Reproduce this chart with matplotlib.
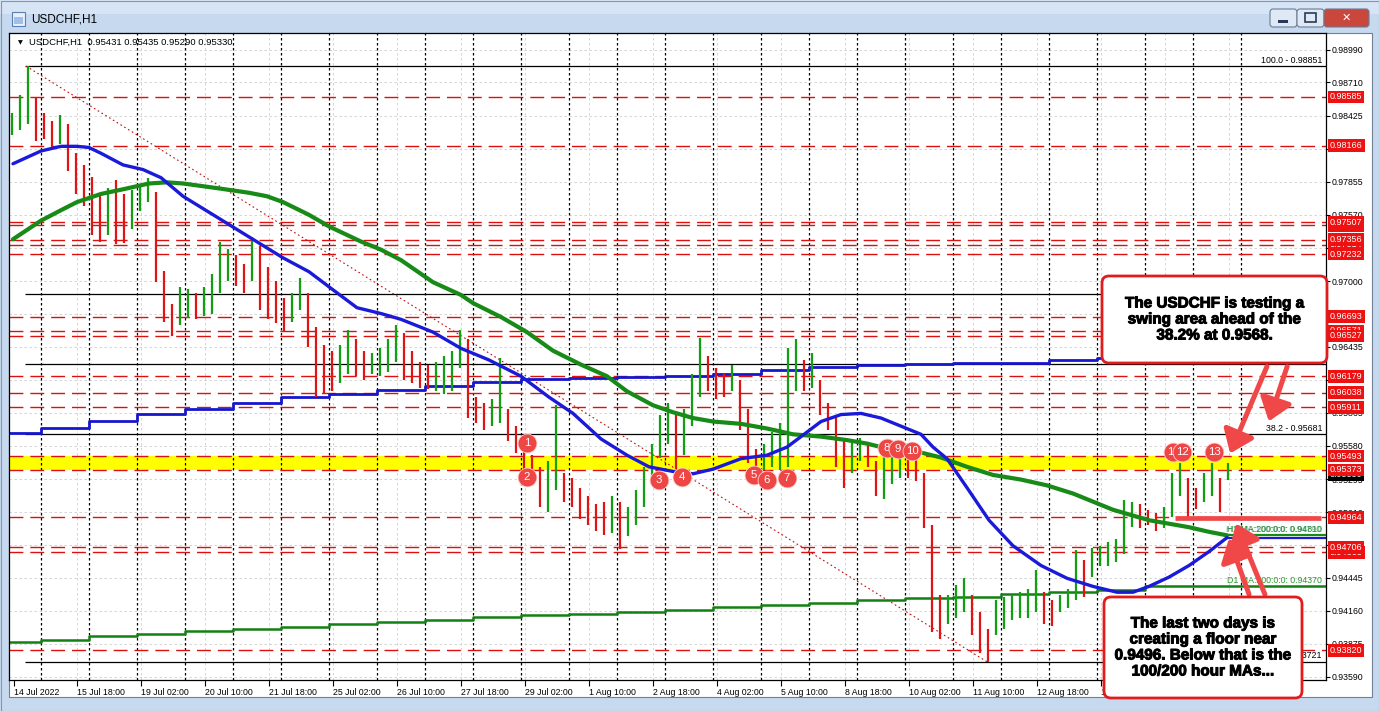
import numpy as np
import matplotlib.pyplot as plt
import matplotlib.transforms as mtransforms
import matplotlib.patheffects as pe
from matplotlib.patches import Rectangle, FancyBboxPatch, FancyArrowPatch

plt.rcParams['font.family'] = ['Liberation Sans', 'DejaVu Sans']

W, H = 1379, 711

# ---------------- data ----------------
# USDCHF H1, grouped into 4-hour high/low blocks (first block ~14 Jul 08:00)
bar_hi = [0.9845, 0.9860, 0.98851, 0.9858, 0.9845, 0.9838, 0.9843, 0.9835, 0.9810,
          0.9800, 0.9790, 0.9775, 0.9780, 0.9787, 0.9775, 0.9778, 0.9782, 0.9789, 0.9777,
          0.9709, 0.9680, 0.9695, 0.9693, 0.9690, 0.9695, 0.9706, 0.9734, 0.9728, 0.9722,
          0.9715, 0.9738, 0.9730, 0.9712, 0.9700, 0.9685, 0.9690, 0.9703, 0.9690, 0.9660,
          0.9645, 0.9640, 0.9645, 0.9658, 0.9650, 0.9640, 0.9638, 0.9642, 0.9650, 0.9662,
          0.9655, 0.9640, 0.9630, 0.9628, 0.9630, 0.9635, 0.9640, 0.9658, 0.9650, 0.9600,
          0.9595, 0.9598, 0.9634, 0.9590, 0.9575, 0.9560, 0.9550, 0.9540, 0.9545, 0.9593,
          0.9535, 0.9530, 0.9522, 0.9515, 0.9508, 0.9510, 0.9515, 0.9510, 0.9505, 0.9520,
          0.9540, 0.9560, 0.9585, 0.9595, 0.9585, 0.9590, 0.9620, 0.9651, 0.9635, 0.9625,
          0.9620, 0.9628, 0.9615, 0.9590, 0.9555, 0.9560, 0.9570, 0.9578, 0.9642, 0.9650,
          0.9632, 0.9638, 0.9615, 0.9595, 0.9585, 0.9565, 0.9562, 0.9565, 0.9560, 0.9545,
          0.9552, 0.9550, 0.9552, 0.9550, 0.9548, 0.9535, 0.9490, 0.9430, 0.9430, 0.9438,
          0.9444, 0.9430, 0.9415, 0.9400, 0.9425, 0.9428, 0.9430, 0.9432, 0.9435, 0.9451,
          0.9432, 0.9425, 0.9430, 0.9435, 0.9468, 0.9460, 0.9470, 0.9472, 0.9475, 0.9478,
          0.9511, 0.9510, 0.9508, 0.9503, 0.9500, 0.9505, 0.9535, 0.9543, 0.9530, 0.9522,
          0.9535, 0.9543, 0.9530, 0.95435]
bar_lo = [0.9826, 0.9830, 0.9835, 0.9821, 0.9822, 0.9815, 0.9818, 0.9795, 0.9775,
          0.9765, 0.9740, 0.9734, 0.9740, 0.9732, 0.9733, 0.9745, 0.9760, 0.9768, 0.9699,
          0.9665, 0.9653, 0.9662, 0.9668, 0.9667, 0.9670, 0.9672, 0.9690, 0.9700, 0.9696,
          0.9690, 0.9700, 0.9675, 0.9667, 0.9664, 0.9656, 0.9665, 0.9675, 0.9643, 0.9600,
          0.9603, 0.9605, 0.9612, 0.9620, 0.9618, 0.9615, 0.9620, 0.9618, 0.9622, 0.9630,
          0.9615, 0.9612, 0.9608, 0.9607, 0.9605, 0.9603, 0.9605, 0.9625, 0.9582, 0.9578,
          0.9572, 0.9575, 0.9578, 0.9562, 0.9552, 0.9537, 0.9528, 0.9505, 0.9501, 0.9520,
          0.9510, 0.9505, 0.9495, 0.9490, 0.9485, 0.9481, 0.9483, 0.9469, 0.9480, 0.9490,
          0.9505, 0.9525, 0.9548, 0.9560, 0.9538, 0.9550, 0.9575, 0.9600, 0.9605, 0.9598,
          0.9600, 0.9605, 0.9572, 0.9543, 0.9538, 0.9537, 0.9540, 0.9537, 0.9540, 0.9605,
          0.9605, 0.9608, 0.9585, 0.9572, 0.9540, 0.9522, 0.9535, 0.9545, 0.9540, 0.9515,
          0.9512, 0.9525, 0.9530, 0.9530, 0.9528, 0.9487, 0.9398, 0.9392, 0.9405, 0.9410,
          0.9415, 0.9395, 0.9380, 0.93721, 0.9395, 0.9400, 0.9408, 0.9410, 0.9410, 0.9415,
          0.9405, 0.9403, 0.9415, 0.9418, 0.9425, 0.9428, 0.9445, 0.9455, 0.9455, 0.9458,
          0.9465, 0.9488, 0.9487, 0.9490, 0.9485, 0.9487, 0.9497, 0.9515, 0.9497, 0.9504,
          0.9510, 0.9515, 0.9501, 0.9529]
bar_first_hour = 9.5
bar_step = 4

# hourly moving averages (hour index from 14 Jul 00:00, price)
ma100_hour = [10, 24, 34, 42, 48, 54, 65, 75, 84, 95, 112, 128, 145, 158, 168, 182, 194, 204,
              220, 234, 248, 264, 278, 290, 304, 317, 328, 340, 350, 360, 374, 387, 397, 404,
              414, 424, 434, 444, 454, 464, 470, 477, 487, 498, 510, 524, 537, 550, 562, 570,
              578, 588, 598, 608, 617]
ma100_price = [0.9801, 0.9812, 0.9816, 0.9816, 0.9815, 0.9810, 0.9800, 0.9796, 0.9789, 0.9773,
               0.9755, 0.9738, 0.9720, 0.9708, 0.9695, 0.9677, 0.9672, 0.9667, 0.9656, 0.9642,
               0.9632, 0.9618, 0.9600, 0.9586, 0.9564, 0.9550, 0.9540, 0.9536, 0.9534, 0.9538,
               0.9547, 0.9550, 0.9557, 0.9566, 0.9579, 0.9585, 0.9586, 0.9582, 0.9575, 0.9568,
               0.9557, 0.9547, 0.9522, 0.9494, 0.9472, 0.9455, 0.9444, 0.9437, 0.9432, 0.9432,
               0.9437, 0.9445, 0.9455, 0.9467, 0.9479]
ma200_hour = [10, 24, 34, 42, 54, 65, 78, 87, 95, 112, 128, 137, 145, 158, 168, 184, 194, 204,
              220, 234, 240, 254, 267, 280, 294, 307, 317, 330, 340, 350, 360, 374, 387, 400,
              414, 427, 437, 444, 460, 474, 487, 500, 514, 527, 540, 550, 560, 570, 578, 588,
              598, 608, 617]
ma200_price = [0.9736, 0.9752, 0.9761, 0.9768, 0.9775, 0.9779, 0.9784, 0.9785, 0.9784, 0.9780,
               0.9776, 0.9773, 0.9768, 0.9757, 0.9747, 0.9734, 0.9727, 0.9718, 0.9699, 0.9688,
               0.9681, 0.9669, 0.9656, 0.9640, 0.9628, 0.9618, 0.9605, 0.9593, 0.9587, 0.9582,
               0.9579, 0.9577, 0.9573, 0.9568, 0.9566, 0.9563, 0.9560, 0.9557, 0.9554, 0.9548,
               0.9540, 0.9533, 0.9529, 0.9524, 0.9517, 0.9510, 0.9503, 0.9498, 0.9494, 0.9491,
               0.9488, 0.9484, 0.9481]

# daily moving averages, one value per trading day
days = ['14 Jul', '15 Jul', '18 Jul', '19 Jul', '20 Jul', '21 Jul', '22 Jul', '25 Jul', '26 Jul',
        '27 Jul', '28 Jul', '29 Jul', '1 Aug', '2 Aug', '3 Aug', '4 Aug', '5 Aug', '8 Aug',
        '9 Aug', '10 Aug', '11 Aug', '12 Aug', '15 Aug', '16 Aug', '17 Aug', '18 Aug']
d1_ma100 = [0.95687, 0.95733, 0.95797, 0.95857, 0.95902, 0.95952, 0.95998, 0.96026, 0.96062,
            0.96097, 0.96129, 0.96157, 0.96168, 0.96175, 0.96182, 0.96203, 0.96238, 0.96263,
            0.96281, 0.96288, 0.96290, 0.96295, 0.96317, 0.96334, 0.96350, 0.96360]
d1_ma200 = [0.93894, 0.93911, 0.93940, 0.93957, 0.93982, 0.94000, 0.94017, 0.94042, 0.94060,
            0.94081, 0.94106, 0.94124, 0.94130, 0.94152, 0.94170, 0.94195, 0.94209, 0.94230,
            0.94251, 0.94273, 0.94283, 0.94301, 0.94319, 0.94336, 0.94370, 0.94370]

# horizontal levels (drawing order: hidden tag first)
red_levels = [0.98585, 0.98166, 0.97480, 0.97507, 0.97314, 0.97356, 0.97232, 0.96693, 0.96571,
              0.96527, 0.96179, 0.96038, 0.95911, 0.95493, 0.95373, 0.94663, 0.94706, 0.94964,
              0.93820]
fib_high, fib_low = 0.98851, 0.93721
fib_pcts = [0.0, 38.2, 50.0, 61.8, 100.0]
fib_start_hour = 16
zone = (0.95373, 0.95493)
floor_level = 0.94960
last_price = 0.95330
ohlc_text = 'USDCHF,H1  0.95431 0.95435 0.95290 0.95330'

# numbered touches of the 0.9537-0.9549 area
touch_hour = [267, 267, 333, 344.5, 380.5, 387, 397, 447, 452.5, 459.5, 590, 594.5, 610.5]
touch_price = [0.95605, 0.95312, 0.95287, 0.95312, 0.95330, 0.95287, 0.95304, 0.95562,
               0.95554, 0.95536, 0.95528, 0.95528, 0.95528]

# red dotted trend line from the high to the low
trend_hour = [16.5, 497]
trend_price = [fib_high, fib_low]

ytick_vals = [0.98990, 0.98710, 0.98425, 0.98140, 0.97855, 0.97570, 0.97285, 0.97000, 0.96715,
              0.96435, 0.96150, 0.95865, 0.95580, 0.95295, 0.95010, 0.94725, 0.94445, 0.94160,
              0.93875, 0.93590]
xtick_labels = ['14 Jul 2022', '15 Jul 18:00', '19 Jul 02:00', '20 Jul 10:00', '21 Jul 18:00',
                '25 Jul 02:00', '26 Jul 10:00', '27 Jul 18:00', '29 Jul 02:00', '1 Aug 10:00',
                '2 Aug 18:00', '4 Aug 02:00', '5 Aug 10:00', '8 Aug 18:00', '10 Aug 02:00',
                '11 Aug 10:00', '12 Aug 18:00', '16 Aug 02:00', '17 Aug 10:00', '18 Aug 18:00']

note_top = 'The USDCHF is testing a\nswing area ahead of the\n38.2% at 0.9568.'
note_bottom = ('The last two days is\ncreating a floor near\n'
               '0.9496. Below that is the\n100/200 hour MAs...')

# ---------------- figure / window chrome ----------------
fig = plt.figure(figsize=(W / 100, H / 100), dpi=100)
fig.patch.set_facecolor('#c7d9ef')
PX = mtransforms.Affine2D().scale(1, -1).translate(0, H)   # image pixels -> display


def prect(x0, y0, x1, y1, z=-1, **kw):
    r = Rectangle((x0, y0), x1 - x0, y1 - y0, transform=PX, zorder=z, **kw)
    fig.add_artist(r)
    return r


prect(0, 0, W, 14, fc='#d6e4f5', ec='none', z=-3)
prect(0.5, 0.5, W - 0.5, H - 0.5, fc='none', ec='#8196b3', lw=0.8, z=-2)
prect(8.5, 32.5, 1372, 697, fc='white', ec='#6f7f94', lw=0.8)
# title icon + caption
prect(12, 12, 25, 26, fc='#e8f0fa', ec='#5b7fb0', lw=0.8, z=-0.5)
prect(14, 17, 23, 24, fc='#9fc0e8', ec='none', z=-0.4)
fig.text(31, 19, 'USDCHF,H1', transform=PX, fontsize=8.5, va='center', ha='left', color='black')
# window buttons
for x0, x1, fc in [(1270, 1297, '#dfe9f6'), (1297, 1324, '#dfe9f6'), (1324, 1369, '#c9473d')]:
    fig.add_artist(FancyBboxPatch((x0, 9), x1 - x0, 18, boxstyle='round,pad=0,rounding_size=3',
                                  transform=PX, fc=fc, ec='#6b7c93', lw=0.8, zorder=-0.5))
prect(1278, 20, 1288, 23, fc='#2a3a55', ec='none', z=-0.4)
prect(1305, 13, 1316, 22, fc='none', ec='#2a3a55', lw=1.2, z=-0.4)
fig.text(1346.5, 18, '\u2715', transform=PX, fontsize=8, ha='center', va='center', color='white',
         fontweight='bold', family=['DejaVu Sans'])

# ---------------- chart ----------------
ax = fig.add_axes([9 / W, 1 - 680 / H, (1326 - 9) / W, (680 - 33) / H])
ax.set_facecolor('white')
ax.set_xlim(8, 666.5)
ax.set_ylim(0.93564, 0.99136)
for s in ax.spines.values():
    s.set_color('black')
    s.set_linewidth(0.9)

xtick_hours = np.r_[10.5, np.arange(42, 42 + 32 * (len(xtick_labels) - 1), 32)]
ax.set_xticks(xtick_hours)
ax.set_xticklabels(xtick_labels, ha='left')
ax.set_yticks(ytick_vals)
ax.set_yticklabels([f'{v:.5f}' for v in ytick_vals])
ax.yaxis.tick_right()
ax.tick_params(axis='y', length=3, width=0.8, pad=1.2, labelsize=6.3)
ax.tick_params(axis='x', length=4, width=0.8, pad=1.5, labelsize=6.3)

# light grid
for t in ytick_vals:
    ax.axhline(t, color='#cfcfcf', lw=0.6, ls=(0, (3, 3)), zorder=0.3)
for t in xtick_hours[1:]:
    ax.axvline(t, color='#cfcfcf', lw=0.6, ls=(0, (3, 3)), zorder=0.3)
# day separators
day_hours = 24 * np.arange(len(days))
for d in np.r_[day_hours[1:], day_hours[-1] + 24]:
    ax.axvline(d, color='black', lw=0.9, ls=(0, (2, 2)), zorder=0.6)

ax.axhspan(zone[0], zone[1], color='#ffff00', lw=0, zorder=0.5)

for p in red_levels:
    ax.axhline(p, color='#dd1010', lw=1.0, ls=(0, (10, 5)), zorder=0.8)
fib_prices = [fib_low + (fib_high - fib_low) * f / 100 for f in fib_pcts]
for f, p in zip(fib_pcts, fib_prices):
    ax.hlines(p, fib_start_hour, 666.5, color='black', lw=0.9, zorder=0.9)
    ax.text(664.5, p + 0.00012, f'{f:.1f} - {p:.5f}', ha='right', va='bottom', fontsize=6.3,
            zorder=0.9)
ax.plot(trend_hour, trend_price, color='#c01010', lw=0.8, ls=(0, (1.5, 2.5)), zorder=1)

# daily MAs (step lines)
step_x = np.r_[np.maximum(day_hours, 8.0), 666.5]
ax.step(step_x, np.r_[d1_ma100, d1_ma100[-1]], where='post', color='#1616cc', lw=2.0, zorder=1.5)
ax.step(step_x, np.r_[d1_ma200, d1_ma200[-1]], where='post', color='#138013', lw=1.8, zorder=1.5)
ax.text(664.5, d1_ma200[-1] + 0.00012, f'D1 MA:200:0:0: {d1_ma200[-1]:.5f}', ha='right',
        va='bottom', fontsize=6.3, color='#2a9a2a', zorder=1.5)

# price bars
hi = np.array(bar_hi)
lo = np.array(bar_lo)
xb = bar_first_hour + bar_step * np.arange(len(hi))
mid = (hi + lo) / 2
up = np.r_[True, mid[1:] >= mid[:-1]]
ax.vlines(xb[up], lo[up], hi[up], color='#12a012', lw=1.6, zorder=2)
ax.vlines(xb[~up], lo[~up], hi[~up], color='#e01414', lw=1.6, zorder=2)

# hourly MAs
ax.plot(ma200_hour, ma200_price, color='#178a17', lw=3.0, zorder=3, solid_capstyle='round')
ax.plot(ma100_hour, ma100_price, color='#1a1ad8', lw=2.4, zorder=3.1, solid_capstyle='round')
ax.hlines(ma100_price[-1], ma100_hour[-1], 666.5, color='#1a1ad8', lw=1.6, zorder=3)
ax.hlines(ma200_price[-1], ma200_hour[-1], 666.5, color='#178a17', lw=1.6, zorder=3)
ax.text(664.5, ma200_price[-1] + 0.00012, f'H1 MA:200:0:0: {ma200_price[-1]:.5f}', ha='right',
        va='bottom', fontsize=6.3, color='#178a17', zorder=3)
ax.text(664.0, ma200_price[-1] + 0.00012, f'H1 MA:100:0:0: {ma100_price[-1]:.5f}', ha='right',
        va='bottom', fontsize=6.3, color='#2a8a6a', alpha=0.7, zorder=3)

# author's floor line
ax.hlines(floor_level, 591, 664, color='#f04848', lw=3.4, zorder=4)

# numbered touches
for n, (h, p) in enumerate(zip(touch_hour, touch_price), start=1):
    ax.scatter([h], [p], s=185, color='#ee4545', edgecolor='#ffd0d0', lw=0.6, zorder=6 + n * 0.01)
    ax.text(h, p, str(n), color='white', fontsize=8.2, ha='center', va='center',
            zorder=6.005 + n * 0.01)

ax.text(0.007, 0.985, '\u25bc', transform=ax.transAxes, fontsize=4.5, va='center',
        family=['DejaVu Sans'])
ax.text(0.015, 0.985, ohlc_text, transform=ax.transAxes, fontsize=6.8, va='center')

# price tags on the right scale
tag_tr = mtransforms.offset_copy(
    mtransforms.blended_transform_factory(ax.transAxes, ax.transData), fig=fig, x=4, units='dots')
ax.text(1.0, last_price, f'{last_price:.5f}', transform=tag_tr, ha='left', va='center',
        fontsize=6.5, color='white', clip_on=False, zorder=5,
        bbox=dict(boxstyle='square,pad=0.2', fc='black', ec='none'))
for p in red_levels:
    ax.text(1.0, p, f'{p:.5f}', transform=tag_tr, ha='left', va='center', fontsize=6.5,
            color='white', clip_on=False, zorder=5,
            bbox=dict(boxstyle='square,pad=0.2', fc='#ee1111', ec='none'))

# ---------------- notes and arrows ----------------
arrows = [((1268, 364), (1229, 456)), ((1288, 364), (1268, 424)),
          ((1250, 597), (1228, 536)), ((1266, 597), (1235, 521))]
for a, b in arrows:
    fig.add_artist(FancyArrowPatch(a, b, transform=PX, arrowstyle='-|>,head_length=0.6,head_width=0.45',
                                   mutation_scale=22, color='#f04848', lw=3.6, zorder=9))

for (x0, y0, x1, y1), txt in [((1102, 276, 1327, 363), note_top),
                              ((1104, 597, 1302, 698), note_bottom)]:
    fig.add_artist(FancyBboxPatch((x0, y0), x1 - x0, y1 - y0,
                                  boxstyle='round,pad=0,rounding_size=7', transform=PX,
                                  fc='white', ec='#e01c1c', lw=2.0, zorder=10))
    fig.text((x0 + x1) / 2, (y0 + y1) / 2, txt, transform=PX, ha='center', va='center',
             fontsize=11, fontweight='bold', linespacing=1.18, zorder=11,
             path_effects=[pe.withStroke(linewidth=0.7, foreground='black')])

fig.savefig('out.png', dpi=100, facecolor=fig.get_facecolor())
